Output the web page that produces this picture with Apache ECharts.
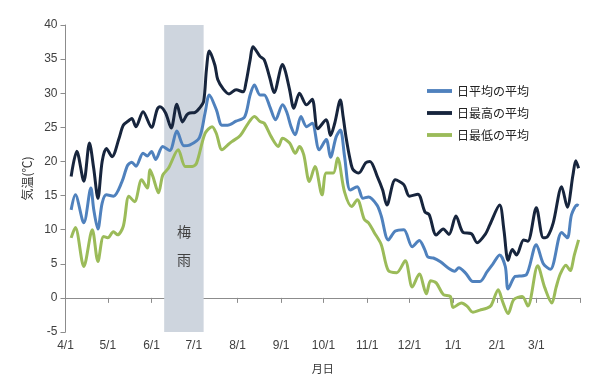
<!DOCTYPE html>
<html><head><meta charset="utf-8">
<script src="https://cdn.jsdelivr.net/npm/echarts@6/dist/echarts.min.js"></script>
<style>html,body{margin:0;padding:0;background:#fff}#c{width:600px;height:384px}</style>
</head><body><div id="c"></div>
<script>
// Day index from 4/1 (0) to 3/31 (364)
const monthTickDays = [0,30,61,91,122,153,183,214,244,275,306,334];
const monthTickLabels = ['4/1','5/1','6/1','7/1','8/1','9/1','10/1','11/1','12/1','1/1','2/1','3/1'];
const yTicks = [-5,0,5,10,15,20,25,30,35,40];

const seriesNames = ['日平均の平均','日最高の平均','日最低の平均'];

const avgDays = [4,7,13,18,20,23,26,29,34,40,44,47,50,55,58,61,64,69,74,79,84,88,95,99,102,107,111,115,121,127,131,134,138,141,145,149,154,157,160,163,167,171,175,180,185,188,192,195,198,202,207,211,215,221,224,229,234,240,246,251,255,257,261,266,272,276,279,284,289,294,299,303,308,312,314,319,322,327,334,339,344,352,356,359,363,364];
const avgVals = [12.9,15.1,11.0,16.1,13.0,10.1,13.9,15.1,14.9,17.0,19.4,19.9,19.3,21.2,20.8,21.45,20.3,22.2,21.6,24.45,22.3,22.4,23.5,27.1,29.75,27.6,25.3,25.3,25.9,26.5,29.75,31.2,29.75,29.75,28.0,26.1,28.3,27.2,25.1,23.9,26.6,25.1,25.6,21.7,23.2,20.6,23.6,24.6,20.7,15.8,16.3,14.6,14.8,13.6,12.0,8.5,9.8,10.0,7.5,8.4,7.0,6.0,5.85,5.3,4.3,3.9,4.4,3.6,2.4,2.4,3.8,4.9,6.3,4.6,1.3,3.15,3.2,3.4,7.8,5.0,4.2,9.6,8.8,12.2,13.6,13.5];

const maxDays = [4,8,13,17,20,23,26,29,33,38,41,45,47,50,55,61,65,67,71,75,79,83,86,88,92,95,98,100,102,106,108,112,116,121,126,128,131,133,138,141,145,148,154,156,159,162,166,171,175,179,185,188,191,195,197,199,202,204,208,213,216,221,225,228,234,240,244,250,255,258,263,268,272,277,282,288,292,298,301,308,311,314,317,320,325,328,334,339,342,346,352,356,360,362,364];
const maxVals = [17.8,21.5,17.1,22.7,19.0,14.6,20.0,21.9,20.7,23.4,25.3,26.0,26.3,25.1,27.3,25.0,27.6,28.0,27.1,24.9,28.4,25.8,26.8,27.1,27.2,27.8,28.8,33.5,36.2,34.1,32.0,30.6,29.9,30.5,30.2,31.5,34.9,36.8,35.4,34.9,32.2,30.1,34.2,33.2,30.5,27.8,30.0,28.3,29.1,24.8,26.1,23.8,25.6,29.0,26.5,23.6,20.2,18.8,18.3,19.8,20.0,17.9,15.8,13.6,17.3,16.6,14.9,15.2,12.6,12.2,9.2,10.1,9.3,12.0,9.6,9.4,8.1,9.4,10.7,13.6,10.0,5.5,7.1,6.3,8.5,8.3,13.2,8.8,9.0,11.0,16.3,13.3,18.0,20.1,19.0];

const minDays = [4,7,13,19,23,27,30,34,37,41,45,49,54,58,60,62,66,69,73,80,85,90,93,99,104,107,111,115,118,124,129,134,138,141,146,151,154,159,163,166,169,173,177,182,185,190,193,198,203,207,212,215,219,224,229,235,241,246,251,256,259,263,268,273,275,281,285,289,294,299,302,307,310,314,318,324,328,335,340,345,348,351,355,358,361,364];
const minVals = [8.8,10.3,4.6,10.0,5.35,9.0,8.8,9.7,9.25,10.5,14.9,14.1,17.3,16.1,18.8,17.8,15.4,18.0,19.0,21.7,19.25,19.25,19.75,24.1,25.1,24.1,21.7,22.4,22.9,23.8,25.4,26.6,25.85,25.6,23.6,22.2,23.4,22.7,21.2,22.2,21.0,17.05,19.25,15.1,18.3,18.3,20.5,15.5,13.4,14.4,11.5,11.0,9.6,7.8,4.0,3.7,5.45,1.6,3.5,0.6,2.5,2.2,0.5,0.2,-1.4,-0.75,-1.25,-2.1,-1.8,-1.5,-1.1,1.2,-0.5,-2.3,-0.25,0.2,-1.2,4.7,1.5,-0.75,1.5,3.5,4.8,4.0,6.3,8.5];

const tsuyuStart = 70, tsuyuEnd = 98;

const zip = (d, v) => d.map((x, i) => [x, v[i]]);
const labelFont = {fontFamily:'Liberation Sans, Noto Sans CJK JP', fontSize:12, color:'#404040'};
const chart = echarts.init(document.getElementById('c'), null, {renderer:'canvas'});
const colors = ['#4f81bd','#17253d','#9bbb59'];
chart.setOption({
  animation:false,
  grid:{left:65.5,right:20,top:25,bottom:52,containLabel:false},
  legend:{
    orient:'vertical', left:422, top:80, itemGap:10, itemWidth:25, itemHeight:12,
    textStyle:{fontFamily:'Noto Sans CJK JP', fontSize:12, color:'#222'},
    data:seriesNames.map((n,i)=>({name:n, icon:'path://M0,0 L26,0 L26,4 L0,4 Z', itemStyle:{color:colors[i]}}))
  },
  xAxis:{
    type:'value', min:0, max:365,
    name:'月日', nameLocation:'middle', nameGap:31,
    nameTextStyle:{fontFamily:'Noto Sans CJK JP', fontSize:11, color:'#333'},
    axisLine:{show:true,lineStyle:{color:'#8c8c8c'}},
    axisTick:{show:true, customValues:monthTickDays.concat([365]), length:5, lineStyle:{color:'#8c8c8c'}},
    axisLabel:Object.assign({customValues:monthTickDays, margin:8,
      formatter:v=>{const i=monthTickDays.indexOf(v);return i>=0?monthTickLabels[i]:'';}}, labelFont),
    splitLine:{show:false}
  },
  yAxis:{
    type:'value', min:-5, max:40, interval:5,
    name:'気温(℃)', nameLocation:'middle', nameGap:31, nameRotate:90,
    nameTextStyle:{fontFamily:'Noto Sans CJK JP', fontSize:12, color:'#333'},
    axisLine:{show:true,lineStyle:{color:'#8c8c8c'}},
    axisTick:{show:true,length:5,lineStyle:{color:'#8c8c8c'}},
    axisLabel:Object.assign({margin:8}, labelFont),
    splitLine:{show:false}
  },
  series:[
    {name:seriesNames[0], type:'line', data:zip(avgDays,avgVals), smooth:0.3, showSymbol:false,
      lineStyle:{width:3,color:colors[0]}, itemStyle:{color:colors[0]}, z:3,
      markArea:{silent:true, itemStyle:{color:'#ced5de'},
        label:{show:true, position:'inside', formatter:'梅\n雨', offset:[0,67], lineHeight:28,
          fontFamily:'Noto Sans CJK JP', fontSize:14, color:'#404040'},
        data:[[{xAxis:tsuyuStart, yAxis:40.5},{xAxis:tsuyuEnd, yAxis:-5}]]}},
    {name:seriesNames[1], type:'line', data:zip(maxDays,maxVals), smooth:0.3, showSymbol:false,
      lineStyle:{width:3,color:colors[1]}, itemStyle:{color:colors[1]}, z:3},
    {name:seriesNames[2], type:'line', data:zip(minDays,minVals), smooth:0.3, showSymbol:false,
      lineStyle:{width:3,color:colors[2]}, itemStyle:{color:colors[2]}, z:3}
  ]
});
</script></body></html>
